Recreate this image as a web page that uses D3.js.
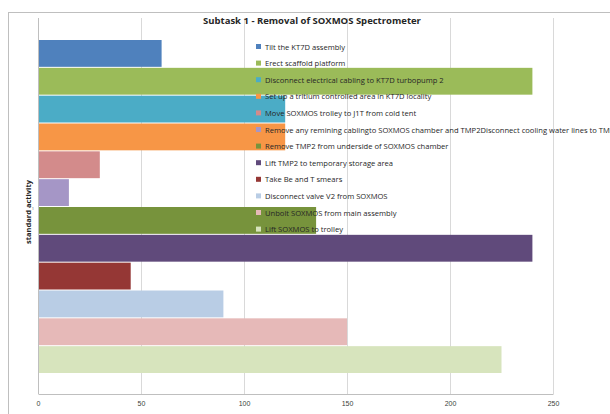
<!DOCTYPE html>
<html>
<head>
<meta charset="utf-8">
<script src="https://cdn.jsdelivr.net/npm/d3@7"></script>
<style>
  body { margin: 0; background: #fff; }
  svg { display: block; font-family: "Open Sans", "Liberation Sans", sans-serif; }
</style>
</head>
<body>
<svg id="chart" width="610" height="414"></svg>
<script>
// activities (one series each), in legend order
const activities = [
    "Tilt the KT7D assembly",
    "Erect scaffold platform",
    "Disconnect electrical cabling to KT7D turbopump 2",
    "Set up a tritium controlled area in KT7D locality",
    "Move SOXMOS trolley to J1T from cold tent",
    "Remove any remining cablingto SOXMOS chamber and TMP2Disconnect cooling water lines to TMP2",
    "Remove TMP2 from underside of SOXMOS chamber",
    "Lift TMP2 to temporary storage area",
    "Take Be and T smears",
    "Disconnect  valve V2 from SOXMOS",
    "Unbolt SOXMOS from main assembly",
    "Lift SOXMOS to trolley"
];
const durations = [60, 240, 120, 120, 30, 15, 135, 240, 45, 90, 150, 225];
const colors = ["#4f81bd", "#9bbb59", "#4bacc6", "#f79646", "#d38b8b", "#a596c6",
                "#77933c", "#604a7b", "#953735", "#b9cde5", "#e6b9b8", "#d7e4bd"];
const xTicks = [0, 50, 100, 150, 200, 250];

const svg = d3.select("#chart");

// plot area
const plotLeft = 38, plotRight = 553, plotTop = 18, plotBottom = 394;

const x = d3.scaleLinear().domain([0, 250]).range([plotLeft, plotRight]);
const y = d3.scaleBand().domain(activities).range([40, 374]).padding(0);
const color = d3.scaleOrdinal().domain(activities).range(colors);

// chart border (cropped at right/bottom)
svg.append("rect")
    .attr("x", 8.5).attr("y", 12.5)
    .attr("width", 700).attr("height", 500)
    .attr("fill", "none").attr("stroke", "#bfbfbf");

// gridlines
svg.append("g")
    .selectAll("line")
    .data(xTicks)
    .join("line")
    .attr("x1", d => x(d) + 0.5).attr("x2", d => x(d) + 0.5)
    .attr("y1", plotTop).attr("y2", plotBottom)
    .attr("stroke", "#d9d9d9");

// bars
svg.append("g")
    .selectAll("rect")
    .data(activities)
    .join("rect")
    .attr("x", x(0) + 1)
    .attr("y", d => y(d))
    .attr("width", (d, i) => x(durations[i]) - x(0) - 1)
    .attr("height", y.bandwidth() - 1)
    .attr("fill", d => color(d));

// x axis
const xAxis = svg.append("g")
    .attr("transform", `translate(0,${plotBottom})`)
    .call(d3.axisBottom(x).tickValues(xTicks).tickSize(0).tickPadding(7));
xAxis.select(".domain").attr("stroke", "#bfbfbf");
xAxis.selectAll("text").attr("font-size", 7).attr("fill", "#404040");

// y axis
svg.append("line")
    .attr("x1", plotLeft + 0.5).attr("x2", plotLeft + 0.5)
    .attr("y1", plotTop).attr("y2", plotBottom)
    .attr("stroke", "#bfbfbf");
svg.append("text")
    .attr("x", 34).attr("y", 210)
    .attr("font-size", 4).attr("fill", "#404040")
    .attr("text-anchor", "end")
    .text("1");

// title
svg.append("text")
    .attr("x", 312).attr("y", 24)
    .attr("text-anchor", "middle")
    .attr("font-size", 9.5).attr("font-weight", "bold").attr("fill", "#262626")
    .text("Subtask 1 - Removal of SOXMOS Spectrometer");

// axis titles
svg.append("text")
    .attr("transform", "translate(31,212) rotate(-90)")
    .attr("text-anchor", "middle")
    .attr("font-size", 7.5).attr("font-weight", "bold").attr("fill", "#262626")
    .text("standard activity");
svg.append("text")
    .attr("x", 301).attr("y", 419)
    .attr("text-anchor", "middle")
    .attr("font-size", 7.5).attr("font-weight", "bold").attr("fill", "#262626")
    .text("duration (minutes)");

// legend
const legend = svg.append("g").attr("transform", "translate(256,47)");
const row = legend.selectAll("g")
    .data(activities)
    .join("g")
    .attr("transform", (d, i) => `translate(0,${i * 16.6})`);
row.append("rect")
    .attr("x", 0).attr("y", -3)
    .attr("width", 5).attr("height", 5)
    .attr("fill", d => color(d));
row.append("text")
    .attr("x", 9).attr("y", 0)
    .attr("dy", "0.35em")
    .attr("font-size", 7.6).attr("fill", "#262626")
    .text(d => d);
</script>
</body>
</html>
